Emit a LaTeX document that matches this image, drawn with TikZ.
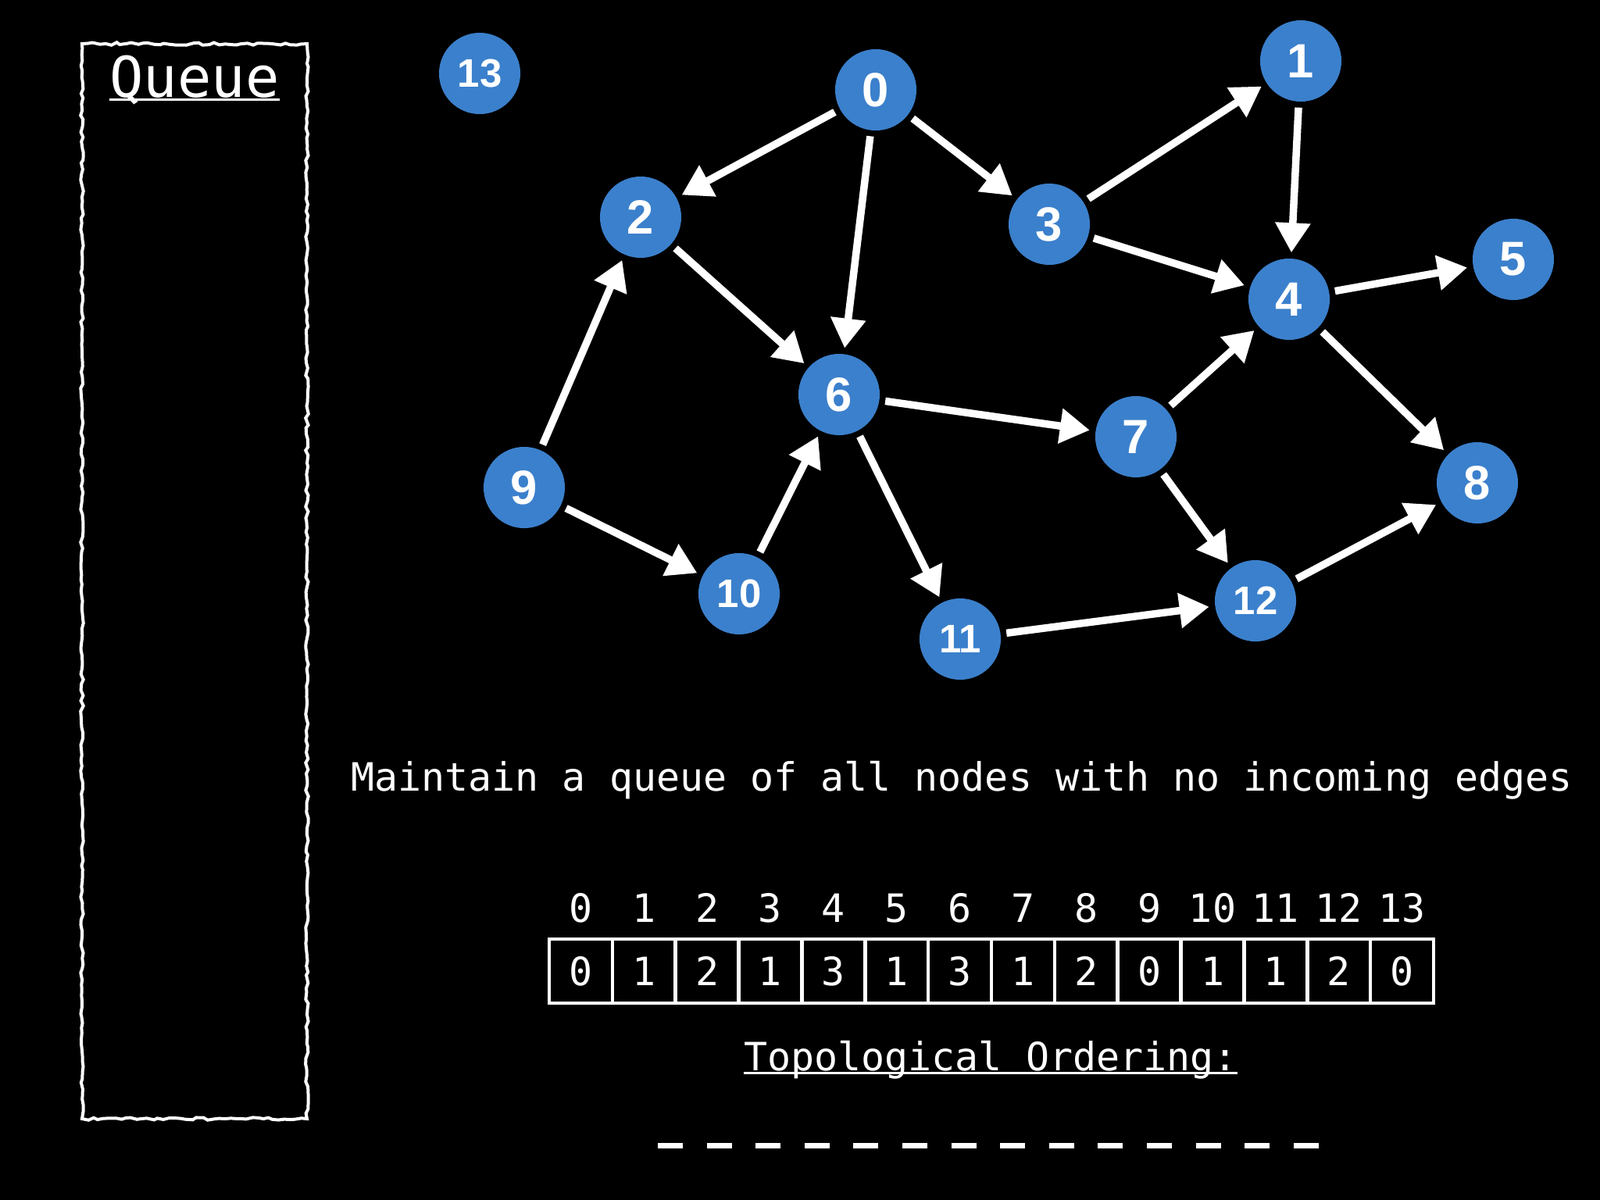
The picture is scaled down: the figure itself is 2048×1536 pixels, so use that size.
\documentclass[tikz,border=0pt]{standalone}
\usepackage{fontspec}
\newfontfamily\monofont{DejaVu Sans Mono}
\newfontfamily\helvfont{Liberation Sans}
\usetikzlibrary{arrows.meta,decorations.pathmorphing}
\definecolor{nodeblue}{RGB}{59,128,204}
\begin{document}
\begin{tikzpicture}[x=0.01cm,y=-0.01cm,
  vert/.style={circle, fill=nodeblue, minimum size=10.4mm, inner sep=0pt, text=white, font=\helvfont\bfseries\fontsize{17.5}{20}\selectfont},
  vertsm/.style={vert, font=\helvfont\bfseries\fontsize{14.5}{16}\selectfont},
  edgearrow/.style={draw=white, line width=0.95mm, -{Triangle[length=3.8mm,width=4.3mm]}, shorten <=0.7mm, shorten >=0.7mm},
  monotext/.style={text=white, inner sep=0pt, font=\monofont\fontsize{14.2}{17}\selectfont},
  cellbox/.style={draw=white, line width=0.45mm, minimum width=8.086mm, minimum height=8.2mm, inner sep=0pt, text=white, font=\monofont\fontsize{14.2}{17}\selectfont},
  uline/.style={draw=white, line width=0.3mm},
  roughbox/.style={draw=white, line width=0.4mm, decorate, decoration={random steps, segment length=0.7mm, amplitude=0.18mm}}
]
\fill[black] (0,0) rectangle (2048,1536);
\useasboundingbox (0,0) rectangle (2048,1536);

% queue box
\draw[roughbox] (105,56) rectangle (393,1432);
\node[text=white, inner sep=0pt, anchor=base, font=\monofont\fontsize{20.5}{24}\selectfont] (qlabel) at (249,124) {Queue};
\draw[uline] ([yshift=-0.3mm]qlabel.base west) -- ([yshift=-0.3mm]qlabel.base east);

% graph nodes
\node[vertsm] (n13) at (614,94) {13};
\node[vert] (n0) at (1121,115) {0};
\node[vert] (n1) at (1665,78) {1};
\node[vert] (n2) at (820,278) {2};
\node[vert] (n3) at (1343,287) {3};
\node[vert] (n4) at (1650,383) {4};
\node[vert] (n5) at (1937,332) {5};
\node[vert] (n6) at (1074,505) {6};
\node[vert] (n7) at (1454,559) {7};
\node[vert] (n8) at (1891,618) {8};
\node[vert] (n9) at (671,624) {9};
\node[vertsm] (n10) at (946,760) {10};
\node[vertsm] (n11) at (1229,818) {11};
\node[vertsm] (n12) at (1607,769) {12};

% edges
\draw[edgearrow] (n0) -- (n2);
\draw[edgearrow] (n0) -- (n6);
\draw[edgearrow] (n0) -- (n3);
\draw[edgearrow] (n3) -- (n1);
\draw[edgearrow] (n1) -- (n4);
\draw[edgearrow] (n3) -- (n4);
\draw[edgearrow] (n4) -- (n5);
\draw[edgearrow] (n4) -- (n8);
\draw[edgearrow] (n2) -- (n6);
\draw[edgearrow] (n9) -- (n2);
\draw[edgearrow] (n9) -- (n10);
\draw[edgearrow] (n10) -- (n6);
\draw[edgearrow] (n6) -- (n7);
\draw[edgearrow] (n6) -- (n11);
\draw[edgearrow] (n7) -- (n4);
\draw[edgearrow] (n7) -- (n12);
\draw[edgearrow] (n11) -- (n12);
\draw[edgearrow] (n12) -- (n8);

% sentence
\node[monotext, anchor=base] (msg) at (1231,1012) {Maintain a queue of all nodes with no incoming edges};

% array
\foreach \i/\v in {0/0,1/1,2/2,3/1,4/3,5/1,6/3,7/1,8/2,9/0,10/1,11/1,12/2,13/0} {
  \node[cellbox] (c\i) at ({703+80.86*\i+40.43},1243) {\v};
  \node[monotext, anchor=base] (idx\i) at ({703+80.86*\i+40.43},1180) {\i};
}

% topological ordering
\node[monotext, anchor=base] (topo) at (1268,1370) {Topological Ordering:};
\draw[uline] ([yshift=-0.35mm]topo.base west) -- ([yshift=-0.35mm]topo.base east);

\foreach \i in {0,...,13} {
  \draw[white, line width=0.7mm] ({842+62.6*\i},1466) -- ++(32,0);
}
\end{tikzpicture}
\end{document}
